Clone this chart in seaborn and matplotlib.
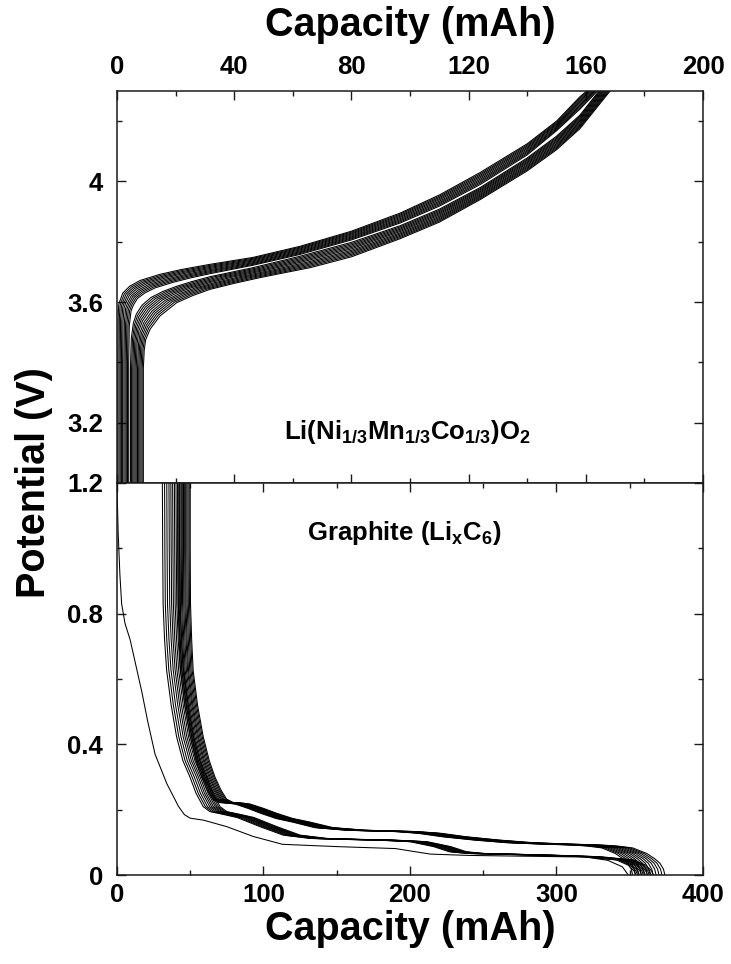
import numpy as np
import pandas as pd
import matplotlib
matplotlib.use("Agg")
import matplotlib.pyplot as plt
import seaborn as sns
from matplotlib.ticker import FixedLocator

# ---------------- data ----------------
# Top panel: Li(Ni1/3Mn1/3Co1/3)O2 charge curves (capacity mAh, potential V)
# upper bundle: first (left/top) and last (right/bottom) curve
nmc_u1_cap = [0.3, 0.3, 0.4, 0.6, 1.0, 2.0, 4.4, 8.0, 14.7, 22.0, 31.7, 46.4, 62.5, 80.0,
              96.6, 110.0, 124.0, 140.0, 150.0, 158.0, 160.3]
nmc_u1_v = [3.00, 3.40, 3.55, 3.59, 3.604, 3.630, 3.653, 3.672, 3.692, 3.708, 3.725, 3.748,
            3.785, 3.835, 3.895, 3.955, 4.030, 4.125, 4.200, 4.281, 4.300]
nmc_u2_cap = [4.0, 4.0, 4.2, 4.8, 5.6, 7.0, 9.5, 13.0, 19.0, 25.0, 31.7, 46.4, 62.5, 80.0,
              96.6, 110.0, 124.0, 140.0, 150.0, 158.0, 164.0]
nmc_u2_v = [3.00, 3.40, 3.52, 3.57, 3.590, 3.612, 3.630, 3.647, 3.665, 3.680, 3.694, 3.722,
            3.758, 3.806, 3.862, 3.918, 3.990, 4.088, 4.168, 4.240, 4.300]
nmc_u_weights = [0.0, 0.11, 0.22, 0.33, 0.44, 0.56, 0.67, 0.78, 0.89, 1.0]
# lower bundle: first (left/top) and last (right/bottom) curve
nmc_l1_cap = [4.6, 4.6, 4.9, 5.6, 6.6, 8.6, 11.6, 15.6, 20.6, 25.6, 31.7, 46.4, 62.5, 80.0,
              96.6, 110.0, 124.0, 140.0, 150.0, 158.0, 164.5]
nmc_l1_v = [3.00, 3.38, 3.48, 3.53, 3.560, 3.590, 3.615, 3.635, 3.653, 3.668, 3.684, 3.714,
            3.752, 3.798, 3.853, 3.908, 3.980, 4.078, 4.150, 4.220, 4.300]
nmc_l2_cap = [9.0, 9.0, 9.3, 9.8, 11.3, 14.7, 20.4, 26.0, 31.7, 40.0, 48.8, 57.0, 65.9, 80.0,
              96.6, 110.0, 124.0, 140.0, 150.0, 158.0, 168.3]
nmc_l2_v = [3.00, 3.38, 3.44, 3.475, 3.510, 3.554, 3.598, 3.622, 3.642, 3.662, 3.681, 3.697,
            3.714, 3.750, 3.810, 3.865, 3.940, 4.035, 4.105, 4.175, 4.300]
nmc_l_weights = [0.0, 0.09, 0.18, 0.27, 0.36, 0.45, 0.55, 0.64, 0.73, 0.82, 0.91, 1.0]

# Bottom panel: graphite (LixC6)
# first cycle
gr_first_cap = [0.0, 0.8, 2.0, 3.2, 5.5, 9.0, 13.0, 17.0, 21.0, 26.0, 34.0, 42.0, 46.0, 50.0,
                59.0, 75.0, 93.0, 113.0, 150.0, 190.0, 214.0, 240.0, 320.0, 335.0, 345.0, 349.0]
gr_first_v = [1.20, 1.05, 0.92, 0.83, 0.77, 0.72, 0.64, 0.56, 0.47, 0.37, 0.28, 0.21, 0.185,
              0.174, 0.168, 0.148, 0.118, 0.094, 0.087, 0.081, 0.064, 0.060, 0.055, 0.045,
              0.025, 0.0]
# lower-plateau bundle: left-most curve, shifts per cycle (start, end)
gr_low_cap = [31.0, 31.2, 31.5, 32.5, 33.9, 37.0, 40.7, 45.0, 49.8, 54.0, 58.9, 63.5, 70.0,
              82.0, 97.6, 113.5, 131.7, 154.5, 177.0, 200.0, 216.0, 227.0, 239.0, 284.0,
              318.0, 341.0, 349.0, 353.0, 354.0]
gr_low_v = [1.20, 1.00, 0.83, 0.72, 0.627, 0.52, 0.423, 0.35, 0.30, 0.25, 0.209, 0.194, 0.188,
            0.176, 0.148, 0.122, 0.112, 0.109, 0.107, 0.102, 0.087, 0.071, 0.066, 0.061,
            0.056, 0.046, 0.030, 0.012, 0.0]
gr_low_start_shift = [0.0, 1.5, 3.0, 4.5, 5.8, 7.0, 8.2, 9.3, 10.4, 11.5]
gr_low_end_shift = [0.0, 1.3, 2.6, 4.0, 5.3, 6.6, 8.0, 9.3, 10.6, 12.0]
# upper-plateau bundle: right-most curve, shifts per cycle (start, end)
gr_up_cap = [50.0, 50.0, 50.2, 51.0, 52.0, 55.0, 58.9, 63.0, 66.9, 71.0, 74.9, 79.4, 86.0,
             91.0, 100.0, 109.0, 120.0, 131.7, 147.6, 170.0, 204.6, 220.5, 238.7, 261.0,
             284.0, 307.0, 329.7, 341.0, 352.0, 361.6, 367.0, 370.6, 373.0, 374.0]
gr_up_v = [1.20, 1.00, 0.83, 0.72, 0.627, 0.52, 0.423, 0.35, 0.30, 0.26, 0.232, 0.222, 0.220,
           0.217, 0.204, 0.189, 0.173, 0.162, 0.145, 0.137, 0.133, 0.128, 0.117, 0.107,
           0.099, 0.095, 0.092, 0.089, 0.083, 0.066, 0.050, 0.036, 0.018, 0.0]
gr_up_start_shift = [-8.5, -7.7, -6.9, -6.1, -5.4, -4.6, -3.8, -3.1, -2.3, -1.5, -0.7, 0.0]
gr_up_end_shift = [-22.0, -20.0, -18.0, -16.0, -14.0, -12.0, -10.0, -8.0, -6.0, -4.0, -2.0, 0.0]

top_xticks = [0, 40, 80, 120, 160, 200]
top_xminor = [20, 60, 100, 140, 180]
bot_xticks = [0, 100, 200, 300, 400]
bot_xminor = [50, 150, 250, 350]
top_yticks = [3.2, 3.6, 4.0]
top_yticklabels = ["3.2", "3.6", "4"]
top_yminor = [3.4, 3.8, 4.2]
bot_yticks = [0.0, 0.4, 0.8, 1.2]
bot_yticklabels = ["0", "0.4", "0.8", "1.2"]
bot_yminor = [0.2, 0.6, 1.0]


def mixed(cap1, v1, cap2, v2, weights, tag):
    c1, c2 = np.asarray(cap1, float), np.asarray(cap2, float)
    w1, w2 = np.asarray(v1, float), np.asarray(v2, float)
    return [pd.DataFrame({"cap": (1 - w) * c1 + w * c2, "v": (1 - w) * w1 + w * w2,
                          "cycle": f"{tag}{i}"}) for i, w in enumerate(weights)]


def shifted(cap, v, start_shift, end_shift, tag):
    cap = np.asarray(cap, float)
    v = np.asarray(v, float)
    frac = (cap - cap[0]) / (cap[-1] - cap[0])
    return [pd.DataFrame({"cap": cap + s + (e - s) * frac, "v": v, "cycle": f"{tag}{i}"})
            for i, (s, e) in enumerate(zip(start_shift, end_shift))]


top_df = pd.concat(mixed(nmc_u1_cap, nmc_u1_v, nmc_u2_cap, nmc_u2_v, nmc_u_weights, "A")
                   + mixed(nmc_l1_cap, nmc_l1_v, nmc_l2_cap, nmc_l2_v, nmc_l_weights, "B"),
                   ignore_index=True)
bot_df = pd.concat([pd.DataFrame({"cap": gr_first_cap, "v": gr_first_v, "cycle": "F"})]
                   + shifted(gr_low_cap, gr_low_v, gr_low_start_shift, gr_low_end_shift, "L")
                   + shifted(gr_up_cap, gr_up_v, gr_up_start_shift, gr_up_end_shift, "U"),
                   ignore_index=True)

# ---------------- style ----------------
sns.set_theme(style="ticks")
plt.rcParams.update({
    "font.family": ["Liberation Sans", "DejaVu Sans"],
    "font.weight": "bold",
    "text.color": "black",
    "axes.labelcolor": "black",
    "axes.edgecolor": "#1a1a1a",
    "xtick.color": "#1a1a1a",
    "ytick.color": "#1a1a1a",
    "xtick.labelcolor": "black",
    "ytick.labelcolor": "black",
    "mathtext.fontset": "custom",
    "mathtext.rm": "Liberation Sans:bold",
    "mathtext.it": "Liberation Sans:bold",
    "mathtext.bf": "Liberation Sans:bold",
    "mathtext.default": "rm",
})

fig = plt.figure(figsize=(7.31, 9.64), dpi=100)
ax_top = fig.add_axes([0.1600, 0.4990, 0.8017, 0.4066])
ax_bot = fig.add_axes([0.1600, 0.0923, 0.8017, 0.4067])

sns.lineplot(data=top_df, x="cap", y="v", units="cycle", estimator=None, sort=False,
             color="black", lw=0.75, ax=ax_top, legend=False)
sns.lineplot(data=bot_df, x="cap", y="v", units="cycle", estimator=None, sort=False,
             color="black", lw=0.75, ax=ax_bot, legend=False)

tick_fs = 18.5
label_fs = 28.5

for ax in (ax_top, ax_bot):
    for sp in ax.spines.values():
        sp.set_visible(True)
        sp.set_linewidth(1.1)
    ax.tick_params(which="both", direction="in", top=True, bottom=True, left=True, right=True,
                   width=1.0, labelsize=tick_fs)
    ax.tick_params(which="major", length=6.5)
    ax.tick_params(which="minor", length=3.5)
    ax.set_ylabel("")

# top panel
ax_top.set_xlim(0, 200)
ax_top.set_ylim(3.0, 4.3)
ax_top.set_xticks(top_xticks)
ax_top.set_xticklabels([str(t) for t in top_xticks], fontweight="bold")
ax_top.xaxis.set_minor_locator(FixedLocator(top_xminor))
ax_top.set_yticks(top_yticks)
ax_top.set_yticklabels(top_yticklabels, fontweight="bold")
ax_top.yaxis.set_minor_locator(FixedLocator(top_yminor))
ax_top.tick_params(axis="x", which="both", labeltop=True, labelbottom=False)
ax_top.tick_params(axis="x", which="major", pad=9)
ax_top.tick_params(axis="y", which="major", pad=10)
ax_top.xaxis.set_label_position("top")
ax_top.set_xlabel("Capacity (mAh)", fontsize=label_fs, fontweight="bold", labelpad=13)

# bottom panel
ax_bot.set_xlim(0, 400)
ax_bot.set_ylim(0.0, 1.2)
ax_bot.set_xticks(bot_xticks)
ax_bot.set_xticklabels([str(t) for t in bot_xticks], fontweight="bold")
ax_bot.xaxis.set_minor_locator(FixedLocator(bot_xminor))
ax_bot.set_yticks(bot_yticks)
ax_bot.set_yticklabels(bot_yticklabels, fontweight="bold")
ax_bot.yaxis.set_minor_locator(FixedLocator(bot_yminor))
ax_bot.tick_params(axis="x", which="major", pad=6)
ax_bot.tick_params(axis="y", which="major", pad=10)
ax_bot.set_xlabel("Capacity (mAh)", fontsize=label_fs, fontweight="bold", labelpad=2)

fig.text(0.047, 0.499, "Potential (V)", rotation=90, ha="center", va="center",
         fontsize=label_fs, fontweight="bold")

ax_top.text(99, 3.146, r"Li(Ni$_{1/3}$Mn$_{1/3}$Co$_{1/3}$)O$_2$", ha="center", va="baseline",
            fontsize=18.5, fontweight="bold")
ax_bot.text(196, 1.025, r"Graphite (Li$_x$C$_6$)", ha="center", va="baseline",
            fontsize=18.5, fontweight="bold")

fig.savefig("out.png", dpi=100)
